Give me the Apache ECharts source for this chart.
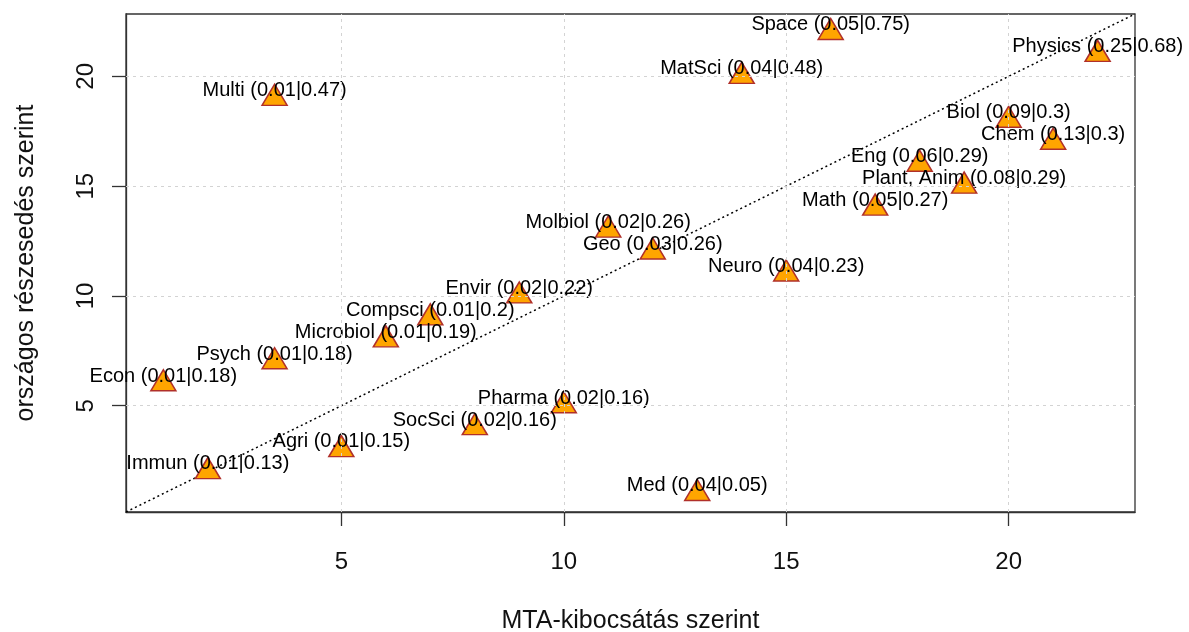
<!DOCTYPE html>
<html>
<head>
<meta charset="utf-8">
<script src="https://cdn.jsdelivr.net/npm/echarts@6/dist/echarts.min.js"></script>
<style>
html,body{margin:0;padding:0;background:#fff;}
#chart{width:1189px;height:632px;}
</style>
</head>
<body>
<div id="chart"></div>
<script>
// Data
const names = ["Space","Physics","MatSci","Multi","Biol","Chem","Eng","Plant, Anim","Math","Molbiol","Geo","Neuro","Envir","Compsci","Microbiol","Psych","Econ","Pharma","SocSci","Agri","Immun","Med"];
const shareA = ["0.05","0.25","0.04","0.01","0.09","0.13","0.06","0.08","0.05","0.02","0.03","0.04","0.02","0.01","0.01","0.01","0.01","0.02","0.02","0.01","0.01","0.04"];
const shareB = ["0.75","0.68","0.48","0.47","0.3","0.3","0.29","0.29","0.27","0.26","0.26","0.23","0.22","0.2","0.19","0.18","0.18","0.16","0.16","0.15","0.13","0.05"];
const rankMTA = [16,22,14,3.5,20,21,18,19,17,11,12,15,9,7,6,3.5,1,10,8,5,2,13];
const rankNat = [22,21,20,19,18,17,16,15,14,13,12,11,10,9,8,7,6,5,4,3,2,1];
const tickValues = [5,10,15,20];
const axisMin = 0.16, axisMax = 22.84;
const xTitle = "MTA-kibocsátás szerint";
const yTitle = "országos részesedés szerint";

const font = "'Liberation Sans', Arial, sans-serif";
const points = names.map((n,i)=>({value:[rankMTA[i], rankNat[i]], name: n + " (" + shareA[i] + "|" + shareB[i] + ")"}));

const chart = echarts.init(document.getElementById('chart'), null, {renderer:'canvas'});
const axisCommon = {
  type:'value', min:axisMin, max:axisMax,
  axisLine:{show:true, onZero:false, lineStyle:{color:'#333', width:1.3}},
  axisTick:{show:true, customValues:tickValues, length:14, lineStyle:{color:'#333', width:1.3}},
  splitLine:{show:false},
  nameLocation:'middle',
  nameTextStyle:{fontFamily:font, fontSize:25, color:'#111'}
};
chart.setOption({
  animation:false,
  backgroundColor:'#fff',
  grid:{left:126, top:14, width:1009, height:498, containLabel:false, outerBoundsMode:'none',
    show:true, borderColor:'#333', borderWidth:1.3, backgroundColor:'transparent'},
  xAxis: Object.assign({}, axisCommon, {
    name:xTitle, nameGap:97,
    axisLabel:{customValues:tickValues, fontFamily:font, fontSize:24, color:'#111', margin:38}
  }),
  yAxis: Object.assign({}, axisCommon, {
    name:yTitle, nameGap:87, nameRotate:90,
    axisLabel:{customValues:tickValues, fontFamily:font, fontSize:24, color:'#111', rotate:90, margin:28, align:'center', verticalAlign:'bottom'}
  }),
  series:[
    {
      type:'line', silent:true, symbol:'none', z:1,
      data: tickValues.map(v=>[v, axisMin]),
      lineStyle:{opacity:0},
      markLine:{silent:true, symbol:'none', label:{show:false},
        lineStyle:{color:'#d3d3d3', type:[3,4], width:1},
        data: tickValues.map(v=>({xAxis:v})).concat(tickValues.map(v=>({yAxis:v})))}
    },
    {
      type:'line', silent:true, symbol:'none', z:2,
      data:[[axisMin,axisMin],[axisMax,axisMax]],
      lineStyle:{color:'#000', width:1.5, type:[2,3]}
    },
    {
      type:'scatter', z:3,
      symbol:'triangle', symbolSize:[25,21], symbolOffset:[0,-3.5],
      itemStyle:{color:'#FFA500', borderColor:'#B0302A', borderWidth:1.5, opacity:1},
      data: points,
      label:{show:true, position:'top', distance:-17, formatter:p=>p.name,
        fontFamily:font, fontSize:20, color:'#000', textBorderWidth:0},
      emphasis:{disabled:true},
      clip:false
    }
  ]
});
</script>
</body>
</html>
